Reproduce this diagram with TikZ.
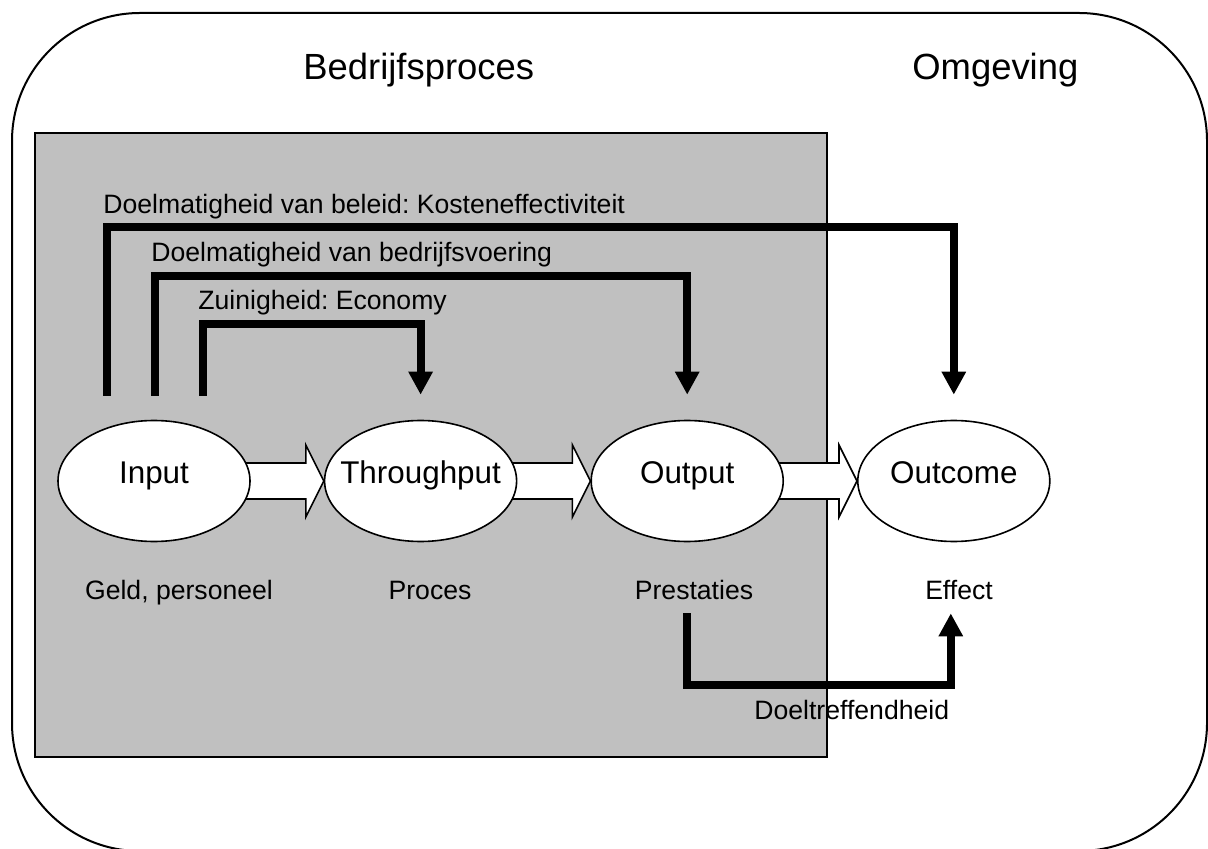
\documentclass[tikz,border=0pt]{standalone}
\usepackage{fontspec}
\setmainfont{Liberation Sans}
\usepackage{xcolor}
\usepackage{tikz}
\usetikzlibrary{positioning}
\usetikzlibrary{calc,arrows.meta}
\usetikzlibrary{backgrounds}
\usetikzlibrary{shapes.geometric}
\definecolor{procgray}{HTML}{C0C0C0}
\frenchspacing

\begin{document}
\begin{tikzpicture}[x=0.5pt, y=-0.5pt, node distance=36.5pt,
  proc/.style={draw, ellipse, fill=white, line width=0.8pt, minimum width=96pt, minimum height=60.5pt, inner xsep=-8pt, inner ysep=0pt, text height=6pt, text depth=4pt, font=\fontsize{15.7}{19}\selectfont},
  note/.style={inner sep=0pt, font=\fontsize{13.3}{16}\selectfont},
  head/.style={inner sep=0pt, font=\fontsize{18.2}{22}\selectfont},
  flow/.style={line width=4pt, -{Triangle[width=11.5pt,length=11.5pt]}},
  block/.style={draw, fill=white, line width=0.8pt}]
\useasboundingbox (0,0) rectangle (1208,849);

\node (inp) [proc] at (154,481) {Input};
\node (thr) [proc, right=of inp] {Throughput};
\node (outp) [proc, right=of thr] {Output};
\node (outc) [proc, right=of outp] {Outcome};

\node (geld) [note, anchor=base] at (179,599) {Geld, personeel};
\node (proces) [note, anchor=base] at (430,599) {Proces};
\node (prest) [note, anchor=base] at (694,599) {Prestaties};
\node (effect) [note, anchor=base] at (959,599) {Effect};

\node (bedrijf) [head, anchor=base west] at (303,80) {Bedrijfsproces};
\node (omgeving) [head, anchor=base west] at (912,80) {Omgeving};

\node (kosten) [note, anchor=base west] at (103,214) {Doelmatigheid van beleid: Kosteneffectiviteit};
\node (bedrijfsv) [note, anchor=base west] at (151,262) {Doelmatigheid van bedrijfsvoering};
\node (zuinig) [note, anchor=base west] at (198,310) {Zuinigheid: Economy};
\node (doeltr) [note, anchor=base west] at (754,719) {Doeltreffendheid};

% frames
\begin{scope}[on background layer]
\draw [line width=1pt, rounded corners=64pt] (12,13) rectangle (1207,851);
\filldraw [fill=procgray, line width=0.8pt] (35,133) rectangle (827,757);
\end{scope}

% block arrows between the stages
\begin{scope}[on background layer]
\draw [block] ($(inp.east)+(-10,-18)$) -- ($(thr.west)+(-18,-18)$) -- ($(thr.west)+(-18,-36)$) -- (thr.west) -- ($(thr.west)+(-18,36)$) -- ($(thr.west)+(-18,18)$) -- ($(inp.east)+(-10,18)$) -- cycle;
\draw [block] ($(thr.east)+(-10,-18)$) -- ($(outp.west)+(-18,-18)$) -- ($(outp.west)+(-18,-36)$) -- (outp.west) -- ($(outp.west)+(-18,36)$) -- ($(outp.west)+(-18,18)$) -- ($(thr.east)+(-10,18)$) -- cycle;
\draw [block] ($(outp.east)+(-10,-18)$) -- ($(outc.west)+(-18,-18)$) -- ($(outc.west)+(-18,-36)$) -- (outc.west) -- ($(outc.west)+(-18,36)$) -- ($(outc.west)+(-18,18)$) -- ($(outp.east)+(-10,18)$) -- cycle;
\end{scope}

\coordinate (kstart) at ($(inp.north)+(-47,-24)$);
\coordinate (bstart) at ($(inp.north)+(1,-24)$);
\coordinate (zstart) at ($(inp.north)+(49,-24)$);
\coordinate (kend) at ($(outc.north)+(0,-25)$);
\coordinate (bend) at ($(outp.north)+(0,-25)$);
\coordinate (zend) at ($(thr.north)+(0,-25)$);
\coordinate (dstart) at ($(outp.south)+(0,71)$);
\coordinate (dend) at ($(outc.south)+(-3,71)$);

\draw [flow] (kstart) -- ++(0,-169) -| (kend);
\draw [flow] (bstart) -- ++(0,-120) -| (bend);
\draw [flow] (zstart) -- ++(0,-72) -| (zend);
\draw [flow] (dstart) -- ++(0,72) -| (dend);
\end{tikzpicture}
\end{document}
